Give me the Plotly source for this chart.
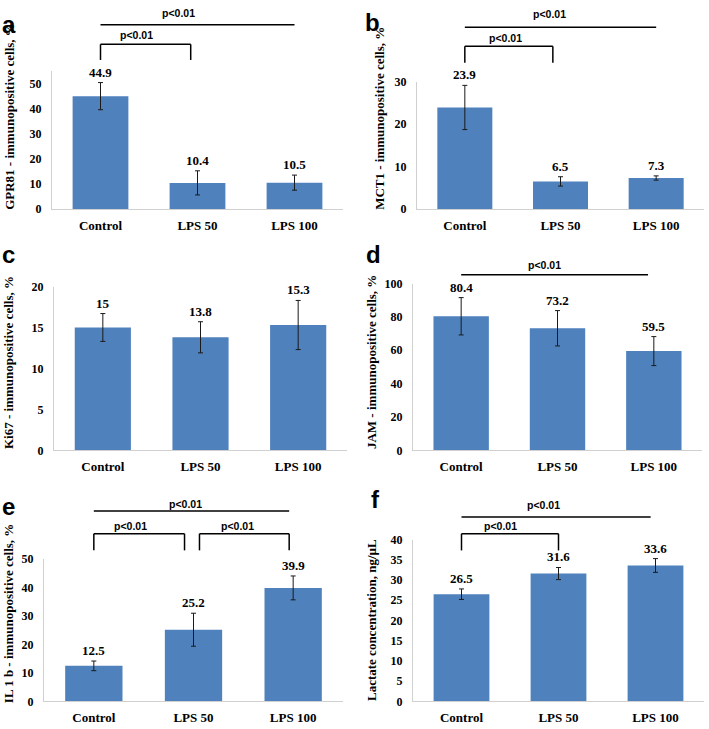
import plotly.graph_objects as go

# data
categories = ["Control", "LPS 50", "LPS 100"]

gpr81 = [44.9, 10.4, 10.5]
gpr81_err = [5.4, 4.8, 3.0]
mct1 = [23.9, 6.5, 7.3]
mct1_err = [5.2, 1.1, 0.5]
ki67 = [15, 13.8, 15.3]
ki67_err = [1.7, 1.9, 3.0]
jam = [80.4, 73.2, 59.5]
jam_err = [11.2, 10.6, 8.7]
il1b = [12.5, 25.2, 39.9]
il1b_err = [1.7, 5.8, 4.2]
lactate = [26.5, 31.6, 33.6]
lactate_err = [1.3, 1.5, 1.7]

W, H = 709, 729
SERIF = "Liberation Serif, Times New Roman, serif"
SANS = "Liberation Sans, Arial, sans-serif"
BAR = "#4f81bd"
AXIS = "#d0d0d0"

# layout of each panel (pixel boxes, axis settings, annotation placement)
panels = [
    dict(vals=gpr81, errs=gpr81_err, letter="a", title="GPR81 - immunopositive cells, %",
         box=(52, 343, 65, 206), yrange=[0, 55], dtick=10,
         letter_pos=(9, 18), title_pos=(10, 112),
         brackets=[(0, 2, 1.333, None, 0.8, 1.418), (0, 0.93, 1.191, 1.078, 0.37, 1.255)]),
    dict(vals=mct1, errs=mct1_err, letter="b", title="MCT1 - immunopositive cells, %",
         box=(417, 704, 76, 206), yrange=[0, 30], dtick=10,
         letter_pos=(373, 16), title_pos=(380, 114),
         brackets=[(0, 2, 1.425, None, 0.88, 1.528), (0, 0.92, 1.277, 1.148, 0.42, 1.341)]),
    dict(vals=ki67, errs=ki67_err, letter="c", title="Ki67 - immunopositive cells, %",
         box=(54, 347, 285, 452), yrange=[0, 20], dtick=5,
         letter_pos=(8, 252), title_pos=(8, 363), brackets=[]),
    dict(vals=jam, errs=jam_err, letter="d", title="JAM - immunopositive cells, %",
         box=(413, 702, 282, 452), yrange=[0, 100], dtick=20,
         letter_pos=(374, 252), title_pos=(371, 362),
         brackets=[(0, 1.94, 1.053, None, 0.86, 1.112)]),
    dict(vals=il1b, errs=il1b_err, letter="e", title="IL 1 b - immunopositive cells, %",
         box=(44, 343, 563, 708), yrange=[0, 50], dtick=10,
         letter_pos=(8, 509), title_pos=(8, 618),
         brackets=[(0, 1.96, 1.338, None, 0.92, 1.386), (0, 0.91, 1.179, 1.062, 0.37, 1.234),
                   (1.06, 1.96, 1.179, 1.062, 1.44, 1.234)]),
    dict(vals=lactate, errs=lactate_err, letter="f", title="Lactate concentration, ng/µL",
         box=(413, 704, 543, 708), yrange=[0, 40], dtick=5,
         letter_pos=(376, 502), title_pos=(372, 625),
         brackets=[(0, 1.95, 1.139, None, 0.85, 1.212), (0, 1.0, 1.036, 0.933, 0.40, 1.085)]),
]

fig = go.Figure()
shapes = []
annotations = []
axes = {}

for i, p in enumerate(panels, start=1):
    sfx = "" if i == 1 else str(i)
    xa, ya = "x" + sfx, "y" + sfx
    x0, x1, y0, y1 = p["box"]

    fig.add_trace(go.Bar(
        x=categories, y=p["vals"],
        error_y=dict(type="data", array=p["errs"], visible=True,
                     color="#1a1a1a", thickness=1, width=2.5),
        marker=dict(color=BAR, line=dict(width=0)),
        xaxis=xa, yaxis=ya, showlegend=False, hoverinfo="skip",
    ))

    axes["xaxis" + sfx] = dict(
        domain=[x0 / W, x1 / W], anchor=ya, type="category",
        showline=True, linecolor=AXIS, linewidth=1, ticks="",
        showgrid=False, zeroline=False, ticklabelstandoff=4,
        tickfont=dict(family=SERIF, size=13, color="black", weight="bold"),
    )
    axes["yaxis" + sfx] = dict(
        domain=[1 - y1 / H, 1 - y0 / H], anchor=xa, range=p["yrange"], dtick=p["dtick"],
        showline=True, linecolor=AXIS, linewidth=1, ticks="",
        showgrid=False, zeroline=False, ticklabelstandoff=7,
        tickfont=dict(family=SERIF, size=12, color="black", weight="bold"),
    )

    # value labels above the error bars
    for c, v, e in zip(categories, p["vals"], p["errs"]):
        annotations.append(dict(
            x=c, y=v + e, xref=xa, yref=ya, text=f"{v:g}", showarrow=False,
            yanchor="bottom", yshift=1,
            font=dict(family=SERIF, size=13, color="black", weight="bold"),
        ))

    # significance lines / brackets
    for bx0, bx1, btop, bdrop, lx, ly in p["brackets"]:
        line = dict(color="black", width=1.5)
        shapes.append(dict(type="line", xref=xa, yref=ya + " domain",
                           x0=bx0, x1=bx1, y0=btop, y1=btop, line=line))
        if bdrop is not None:
            for bx in (bx0, bx1):
                shapes.append(dict(type="line", xref=xa, yref=ya + " domain",
                                   x0=bx, x1=bx, y0=btop, y1=bdrop, line=line))
        annotations.append(dict(
            x=lx, y=ly, xref=xa, yref=ya + " domain", text="p<0.01", showarrow=False,
            xanchor="center", yanchor="middle",
            font=dict(family=SANS, size=10.5, color="black", weight="bold"),
        ))

    # panel letter
    lx, ly = p["letter_pos"]
    annotations.append(dict(
        x=lx / W, y=1 - ly / H, xref="paper", yref="paper", text=p["letter"],
        showarrow=False, xanchor="center", yanchor="middle",
        font=dict(family=SANS, size=24, color="black", weight="bold"),
    ))

    # y-axis title
    tx, ty = p["title_pos"]
    annotations.append(dict(
        x=tx / W, y=1 - ty / H, xref="paper", yref="paper", text=p["title"],
        textangle=-90, showarrow=False, xanchor="center", yanchor="middle",
        font=dict(family=SERIF, size=13, color="black", weight="bold"),
    ))

fig.update_layout(
    width=W, height=H,
    margin=dict(l=0, r=0, t=0, b=0),
    paper_bgcolor="white", plot_bgcolor="white",
    bargap=0.425,
    shapes=shapes, annotations=annotations,
    **axes,
)

fig.write_html("out.html", config={"displayModeBar": False},
               post_script="document.body.style.margin='0';")
